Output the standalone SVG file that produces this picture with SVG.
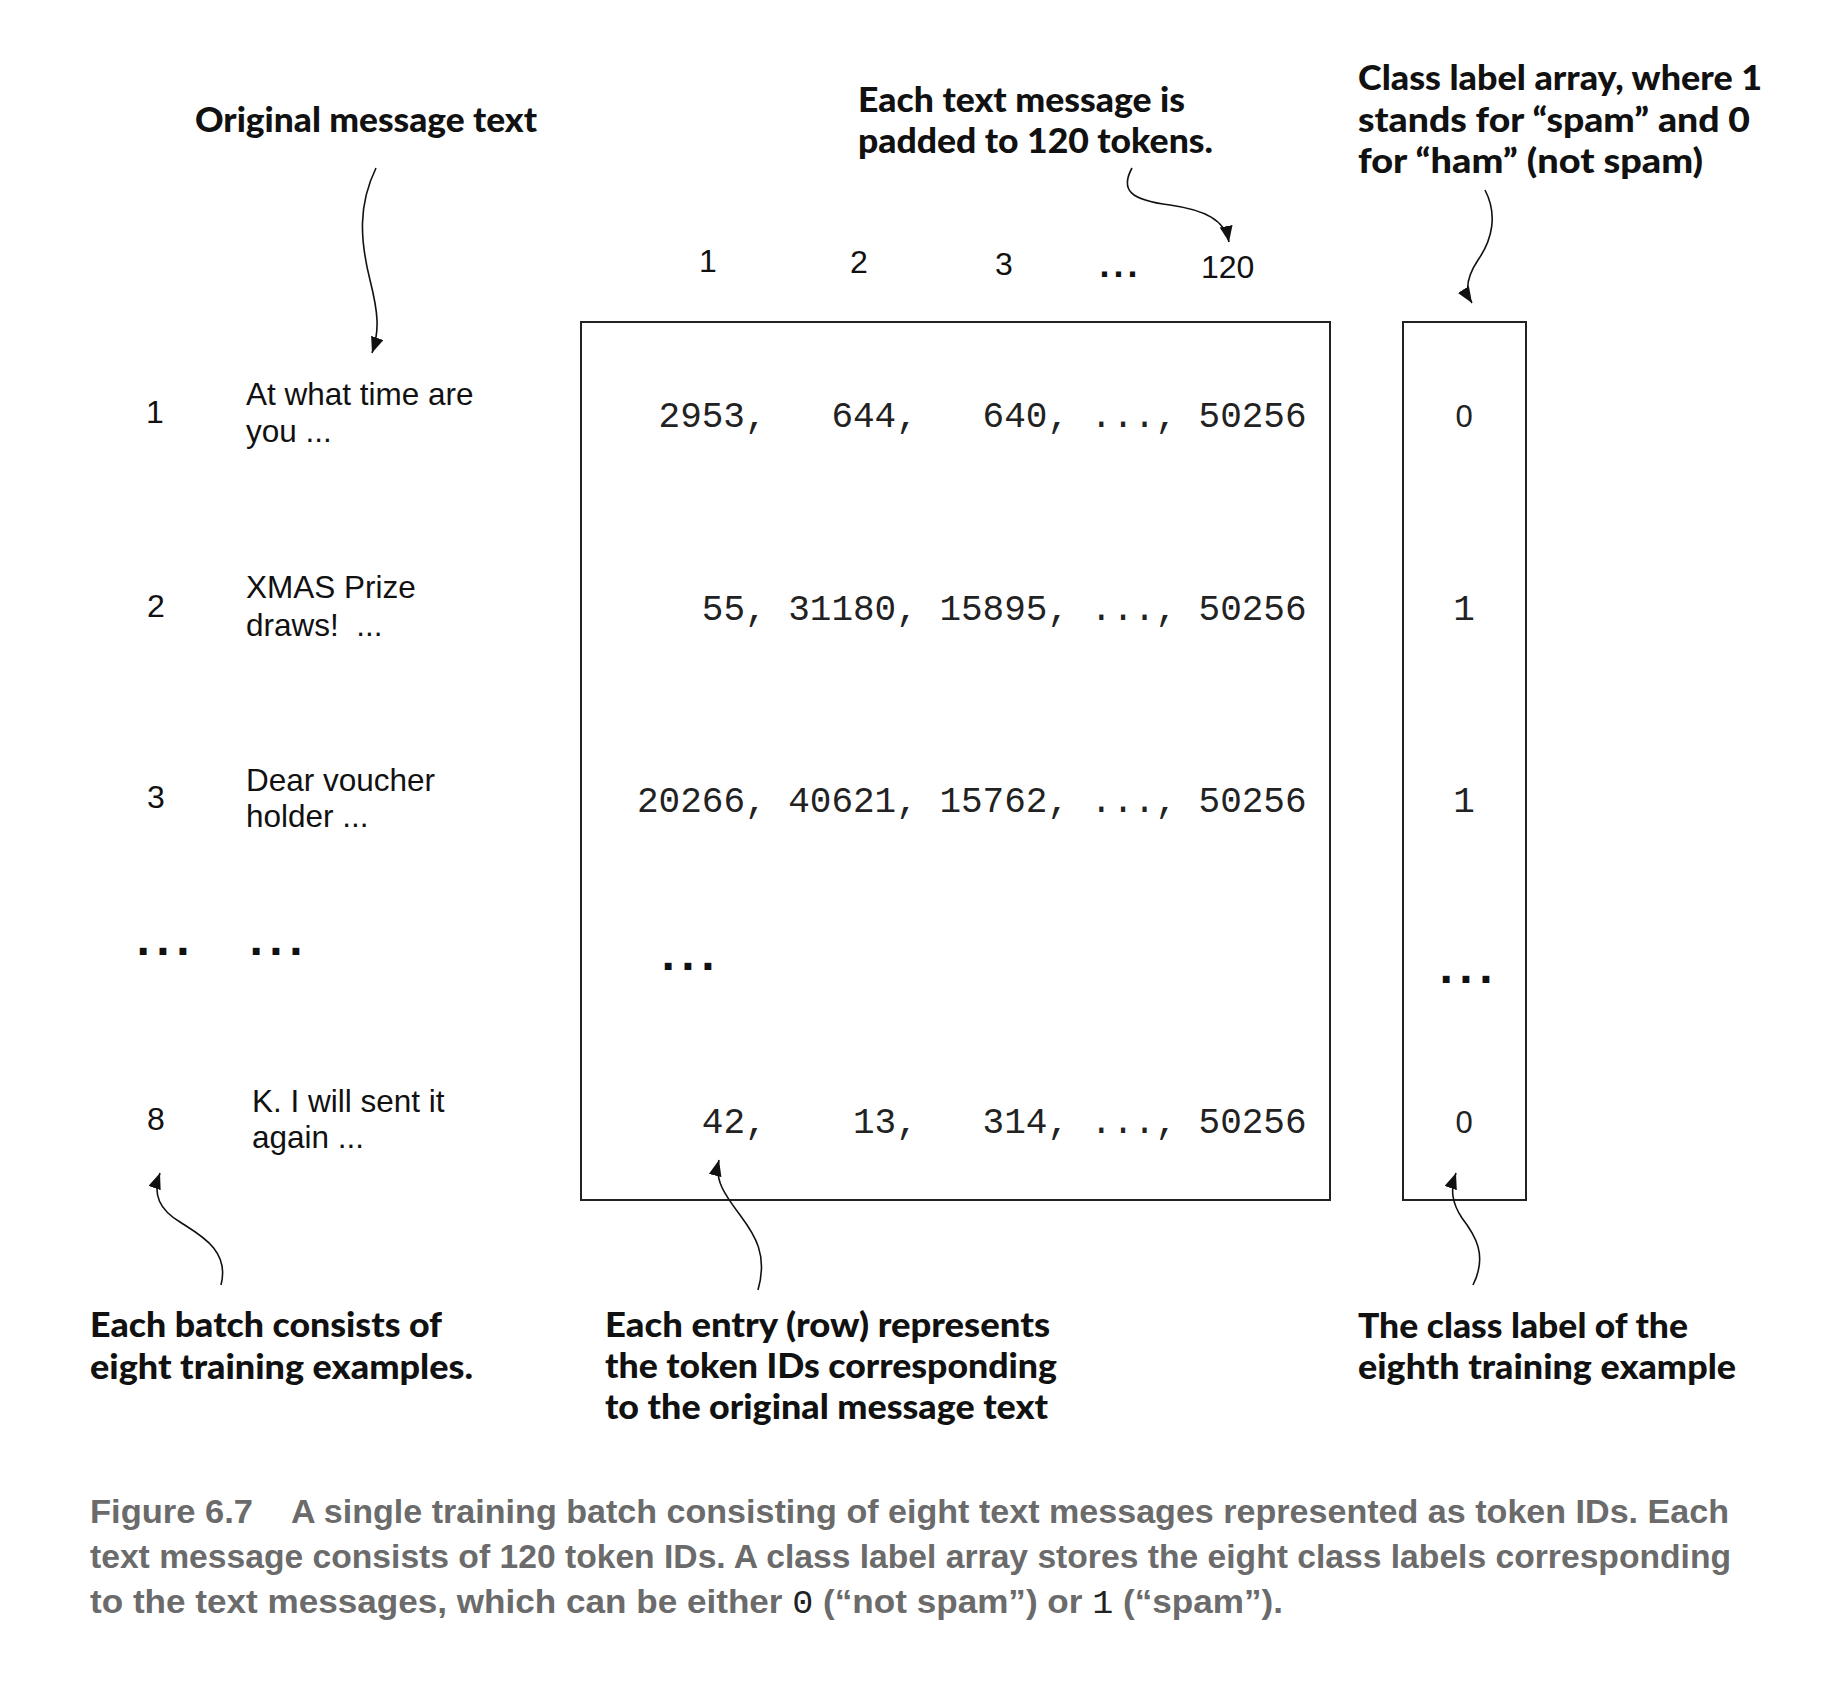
<svg xmlns="http://www.w3.org/2000/svg" width="1834" height="1684" viewBox="0 0 1834 1684">
<defs>
<marker id="ah" markerUnits="userSpaceOnUse" markerWidth="18" markerHeight="14" refX="16" refY="6.5" orient="auto">
<path d="M0,0 L16,6.5 L0,13 z" fill="#111"/>
</marker>
<style>
.ann{font-family:Lato,"Liberation Sans",sans-serif;font-weight:900;font-size:35px;fill:#111}
.msg{font-family:"Liberation Sans",Arial,sans-serif;font-size:31.5px;fill:#111}
.num{font-family:"Liberation Sans",Arial,sans-serif;font-size:32px;fill:#111}
.mono{font-family:"Liberation Mono","Courier New",monospace;font-size:36px;fill:#222}
.lbl0{font-family:"Liberation Sans",Arial,sans-serif;font-size:31px;fill:#222}
.dots{font-family:"Liberation Sans",Arial,sans-serif;font-weight:700;font-size:48px;letter-spacing:6.5px;fill:#111}
.hdots{font-family:"Liberation Sans",Arial,sans-serif;font-weight:700;font-size:36px;letter-spacing:4px;fill:#111}
.cap{font-family:"Liberation Sans",Arial,sans-serif;font-weight:700;font-size:33px;fill:#6b6b6b}
.capm{font-family:"Liberation Mono","Courier New",monospace;font-weight:400;fill:#222}
.box{fill:none;stroke:#222;stroke-width:2}
.conn{fill:none;stroke:#111;stroke-width:1.6}
</style>
</defs>
<rect width="1834" height="1684" fill="#fff"/>

<g id="annotations">
<g id="ann-original"><text class="ann" x="195" y="132" textLength="342" lengthAdjust="spacingAndGlyphs">Original message text</text></g>
<g id="ann-padded">
<text class="ann" x="858" y="112" textLength="327" lengthAdjust="spacingAndGlyphs">Each text message is</text>
<text class="ann" x="858" y="153" textLength="355" lengthAdjust="spacingAndGlyphs">padded to 120 tokens.</text>
</g>
<g id="ann-classarray">
<text class="ann" x="1358" y="90" textLength="404" lengthAdjust="spacingAndGlyphs">Class label array, where 1</text>
<text class="ann" x="1358" y="132" textLength="392" lengthAdjust="spacingAndGlyphs">stands for “spam” and 0</text>
<text class="ann" x="1358" y="173" textLength="345" lengthAdjust="spacingAndGlyphs">for “ham” (not spam)</text>
</g>
<g id="ann-batch">
<text class="ann" x="90" y="1337" textLength="352" lengthAdjust="spacingAndGlyphs">Each batch consists of</text>
<text class="ann" x="90" y="1379" textLength="383" lengthAdjust="spacingAndGlyphs">eight training examples.</text>
</g>
<g id="ann-entry">
<text class="ann" x="605" y="1337" textLength="445" lengthAdjust="spacingAndGlyphs">Each entry (row) represents</text>
<text class="ann" x="605" y="1378" textLength="452" lengthAdjust="spacingAndGlyphs">the token IDs corresponding</text>
<text class="ann" x="605" y="1419" textLength="443" lengthAdjust="spacingAndGlyphs">to the original message text</text>
</g>
<g id="ann-eighth">
<text class="ann" x="1358" y="1338" textLength="330" lengthAdjust="spacingAndGlyphs">The class label of the</text>
<text class="ann" x="1358" y="1379" textLength="378" lengthAdjust="spacingAndGlyphs">eighth training example</text>
</g>
</g>

<g id="column-headers">
<text class="num" x="699" y="272">1</text>
<text class="num" x="850" y="273">2</text>
<text class="num" x="995" y="275">3</text>
<text class="hdots" x="1099.5" y="277">...</text>
<text class="num" x="1201" y="278">120</text>
</g>

<g id="messages">
<g id="msg-1">
<text class="num" x="146" y="423">1</text>
<text class="msg" x="246" y="405">At what time are</text>
<text class="msg" x="246" y="442">you ...</text>
</g>
<g id="msg-2">
<text class="num" x="147" y="617">2</text>
<text class="msg" x="246" y="598">XMAS Prize</text>
<text class="msg" x="246" y="636">draws!&#160; ...</text>
</g>
<g id="msg-3">
<text class="num" x="147" y="808">3</text>
<text class="msg" x="246" y="791">Dear voucher</text>
<text class="msg" x="246" y="827">holder ...</text>
</g>
<g id="msg-ellipsis">
<text class="dots" x="136.5" y="955">...</text>
<text class="dots" x="249.5" y="955">...</text>
</g>
<g id="msg-8">
<text class="num" x="147" y="1130">8</text>
<text class="msg" x="252" y="1112">K. I will sent it</text>
<text class="msg" x="252" y="1148">again ...</text>
</g>
</g>

<g id="token-matrix">
<rect class="box" x="581" y="322" width="749" height="878"/>
<g class="mono" text-anchor="end">
<text y="427"><tspan x="766.6">2953,</tspan><tspan x="917.8">644,</tspan><tspan x="1069">640,</tspan><tspan x="1177">...,</tspan><tspan x="1306.6">50256</tspan></text>
<text y="620"><tspan x="766.6">55,</tspan><tspan x="917.8">31180,</tspan><tspan x="1069">15895,</tspan><tspan x="1177">...,</tspan><tspan x="1306.6">50256</tspan></text>
<text y="812"><tspan x="766.6">20266,</tspan><tspan x="917.8">40621,</tspan><tspan x="1069">15762,</tspan><tspan x="1177">...,</tspan><tspan x="1306.6">50256</tspan></text>
<text y="1133"><tspan x="766.6">42,</tspan><tspan x="917.8">13,</tspan><tspan x="1069">314,</tspan><tspan x="1177">...,</tspan><tspan x="1306.6">50256</tspan></text>
</g>
<text class="dots" x="661.5" y="970">...</text>
</g>

<g id="label-array">
<rect class="box" x="1403" y="322" width="123" height="878"/>
<g text-anchor="middle">
<text class="lbl0" x="1464" y="427">0</text>
<text class="mono" x="1464" y="620">1</text>
<text class="mono" x="1464" y="812">1</text>
<text class="lbl0" x="1464" y="1133">0</text>
</g>
<text class="dots" x="1439.5" y="983">...</text>
</g>

<g id="connectors">
<path class="conn" marker-end="url(#ah)" d="M376,168 C358,205 360,240 370,280 C378,312 380,330 372,353"/>
<path class="conn" marker-end="url(#ah)" d="M1132,168 C1120,190 1130,200 1170,205 C1205,210 1225,220 1229,242"/>
<path class="conn" marker-end="url(#ah)" d="M1485,190 C1498,215 1492,240 1478,260 C1466,278 1465,292 1472,303"/>
<path class="conn" marker-end="url(#ah)" d="M221,1285 C230,1250 200,1235 180,1222 C160,1210 152,1195 160,1173"/>
<path class="conn" marker-end="url(#ah)" d="M758,1290 C768,1255 755,1235 740,1215 C725,1195 714,1180 719,1160"/>
<path class="conn" marker-end="url(#ah)" d="M1473,1285 C1488,1255 1475,1235 1462,1218 C1452,1203 1450,1190 1456,1173"/>
</g>

<g id="caption">
<text class="cap" x="90" y="1523" textLength="163" lengthAdjust="spacingAndGlyphs">Figure 6.7</text>
<text class="cap" x="291" y="1523" textLength="1438" lengthAdjust="spacingAndGlyphs">A single training batch consisting of eight text messages represented as token IDs. Each</text>
<text class="cap" x="90" y="1568" textLength="1641" lengthAdjust="spacingAndGlyphs">text message consists of 120 token IDs. A class label array stores the eight class labels corresponding</text>
<text class="cap" x="90" y="1613" textLength="1193" lengthAdjust="spacingAndGlyphs">to the text messages, which can be either <tspan class="capm">0</tspan> (“not spam”) or <tspan class="capm">1</tspan> (“spam”).</text>
</g>
</svg>
